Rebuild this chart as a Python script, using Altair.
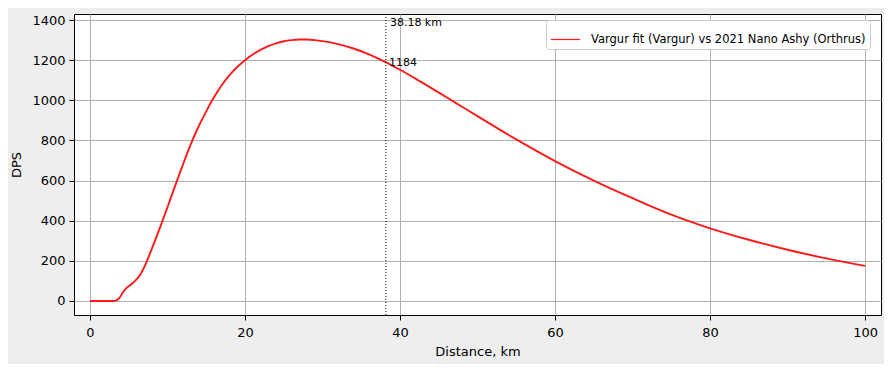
import altair as alt
import pandas as pd

# Distance (km) and DPS
distance_km = [0, 1, 2, 3, 3.4, 3.8, 4.2, 4.6, 5.0, 5.6, 6.0, 6.5, 7, 8, 9, 10, 11, 12,
               13, 14, 15, 16, 17, 18, 19, 20, 21, 22, 23, 24, 25, 26, 27, 28, 29, 30,
               32, 34, 36, 38, 40, 42, 44, 46, 48, 50, 55, 60, 65, 70, 75, 80, 85, 90,
               95, 100]
dps = [0, 0, 0, 0, 3, 15, 40, 60, 73, 92, 107, 132, 168, 262, 362, 467, 575, 680,
       780, 868, 945, 1015, 1075, 1125, 1166, 1200, 1228, 1251, 1270, 1284, 1294, 1300, 1303, 1303, 1300, 1295,
       1280, 1258, 1229, 1193, 1152, 1108, 1062, 1015, 968, 921, 805, 697, 600, 512, 430, 362, 305, 255,
       212, 175]
series_name = "Vargur fit (Vargur) vs 2021 Nano Ashy (Orthrus)"

marker_km = [38.18]
marker_dps = [1184]
marker_labels = ["38.18 km"]
marker_top = [1385]

x_ticks = [0, 20, 40, 60, 80, 100]
y_ticks = [0, 200, 400, 600, 800, 1000, 1200, 1400]

df = pd.DataFrame({"Distance": distance_km, "DPS": dps, "series": series_name})
mk = pd.DataFrame({"km": marker_km, "dps": marker_dps,
                   "lbl_top": marker_labels, "top": marker_top,
                   "lbl_val": [str(v) for v in marker_dps]})

xscale = alt.Scale(domain=[-2.06, 102.06], nice=False, zero=False)
yscale = alt.Scale(domain=[-70, 1430], nice=False, zero=False)

line = alt.Chart(df).mark_line(strokeWidth=1.9, interpolate="monotone").encode(
    x=alt.X("Distance:Q", scale=xscale, title="Distance, km",
            axis=alt.Axis(values=x_ticks, format="d")),
    y=alt.Y("DPS:Q", scale=yscale, title="DPS",
            axis=alt.Axis(values=y_ticks, format="d")),
    color=alt.Color("series:N",
                    scale=alt.Scale(domain=[series_name], range=["#ff1a1a"]),
                    legend=alt.Legend(title=None, orient="none", legendX=472, legendY=6,
                                      symbolType="stroke", symbolSize=841,
                                      symbolStrokeWidth=1.2, labelOffset=10,
                                      labelFont="DejaVu Sans", labelFontSize=11.5,
                                      labelColor="black", labelLimit=0, padding=4,
                                      fillColor="white", strokeColor="#cccccc",
                                      cornerRadius=3)),
)

vline = alt.Chart(mk).mark_rule(color="black", strokeWidth=1, strokeDash=[1, 2]).encode(
    x=alt.X("km:Q", scale=xscale)
)

txt_top = alt.Chart(mk).mark_text(align="left", baseline="middle", dx=4,
                                  font="DejaVu Sans", fontSize=11, color="black").encode(
    x=alt.X("km:Q", scale=xscale), y=alt.Y("top:Q", scale=yscale), text="lbl_top:N"
)
txt_val = alt.Chart(mk).mark_text(align="left", baseline="middle", dx=3,
                                  font="DejaVu Sans", fontSize=11, color="black").encode(
    x=alt.X("km:Q", scale=xscale), y=alt.Y("dps:Q", scale=yscale), text="lbl_val:N"
)

chart = alt.layer(line, vline, txt_top, txt_val).properties(
    width=807, height=301,
    autosize=alt.AutoSizeParams(type="none"),
    padding={"left": 66, "top": 6, "right": 3, "bottom": 49},
    background="#eeeeee",
).configure_view(
    stroke="black", strokeWidth=1, fill="white"
).configure_axis(
    grid=True, gridColor="#b0b0b0", gridWidth=1,
    domain=False, tickColor="black", tickSize=5, tickWidth=1,
    labelFont="DejaVu Sans", labelFontSize=13, labelColor="black", labelPadding=4,
    titleFont="DejaVu Sans", titleFontSize=13, titleFontWeight="normal", titleColor="black",
).configure_axisX(titlePadding=6, labelPadding=6).configure_axisY(titlePadding=8)

chart.save("out.html", embed_options={"renderer": "svg", "actions": False})
